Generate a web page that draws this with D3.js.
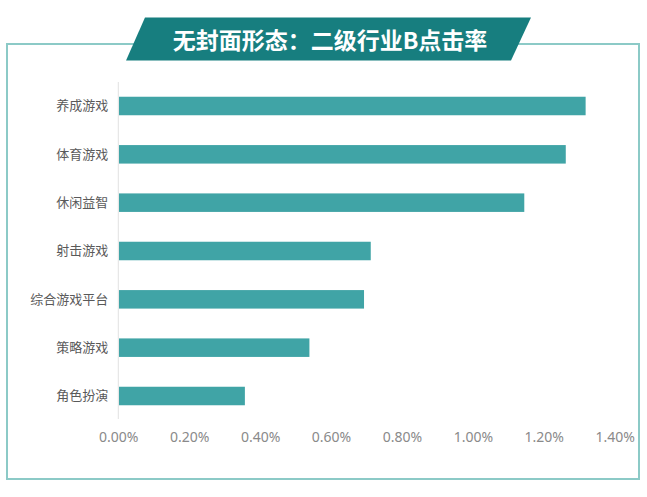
<!DOCTYPE html>
<html>
<head>
<meta charset="utf-8">
<script src="https://cdn.jsdelivr.net/npm/d3@7"></script>
<style>
    html, body { margin: 0; padding: 0; background: #fff; }
    svg { display: block; }
</style>
</head>
<body>
<div id="chart"></div>
<script>
// Chart data (values in percent)
const categories = ['养成游戏', '体育游戏', '休闲益智', '射击游戏', '综合游戏平台', '策略游戏', '角色扮演'];
const clickRates = [1.318, 1.262, 1.145, 0.712, 0.693, 0.539, 0.357];
const tickValues = [0, 0.2, 0.4, 0.6, 0.8, 1.0, 1.2, 1.4];
const titleText = '无封面形态：二级行业B点击率';

const width = 647;
const height = 497;

const svg = d3.select('#chart')
    .append('svg')
    .attr('width', width)
    .attr('height', height);

// Outer frame
svg.append('rect')
    .attr('x', 7)
    .attr('y', 44)
    .attr('width', 632)
    .attr('height', 435)
    .attr('fill', 'none')
    .attr('stroke', '#8ccac7')
    .attr('stroke-width', 2);

// Title banner (parallelogram)
svg.append('path')
    .attr('d', 'M145,17.5 L531,17.5 L511,60.5 L126,60.5 Z')
    .attr('fill', '#177e7f');

svg.append('text')
    .attr('x', 330)
    .attr('y', 38.5)
    .attr('text-anchor', 'middle')
    .attr('dominant-baseline', 'central')
    .attr('fill', '#fff')
    .style('font-family', '"Noto Sans CJK SC", sans-serif')
    .style('font-weight', 'bold')
    .style('font-size', '23px')
    .text(titleText);

// Scales
const x = d3.scaleLinear()
    .domain([0, 1.4])
    .range([118.3, 614.7]);

const y = d3.scaleBand()
    .domain(categories)
    .range([82, 420])
    .paddingInner(0.617)
    .paddingOuter(0.305);

// Vertical axis line
svg.append('line')
    .attr('x1', x(0))
    .attr('x2', x(0))
    .attr('y1', 82)
    .attr('y2', 419)
    .attr('stroke', '#e2e2e2')
    .attr('stroke-width', 1);

// Bars
svg.selectAll('.bar')
    .data(categories)
    .enter()
    .append('rect')
    .attr('class', 'bar')
    .attr('x', x(0) + 0.7)
    .attr('y', d => y(d))
    .attr('width', (d, i) => x(clickRates[i]) - x(0) - 0.7)
    .attr('height', y.bandwidth())
    .attr('fill', '#40a4a6');

// Category labels
const yAxis = d3.axisLeft(y).tickSize(0).tickPadding(10);
const yG = svg.append('g')
    .attr('transform', `translate(${x(0)},0)`)
    .call(yAxis);
yG.select('.domain').remove();
yG.selectAll('text')
    .attr('fill', '#595959')
    .style('font-family', '"Noto Sans CJK SC", sans-serif')
    .style('font-size', '13px');

// Value axis labels
const xAxis = d3.axisBottom(x)
    .tickValues(tickValues)
    .tickSize(0)
    .tickPadding(0)
    .tickFormat(d => d3.format('.2f')(d) + '%');
const xG = svg.append('g')
    .attr('transform', 'translate(0,437)')
    .call(xAxis);
xG.select('.domain').remove();
xG.selectAll('text')
    .attr('dy', '0.35em')
    .attr('fill', '#8a8a8a')
    .style('font-family', '"Noto Sans", sans-serif')
    .style('font-size', '14px');
</script>
</body>
</html>
